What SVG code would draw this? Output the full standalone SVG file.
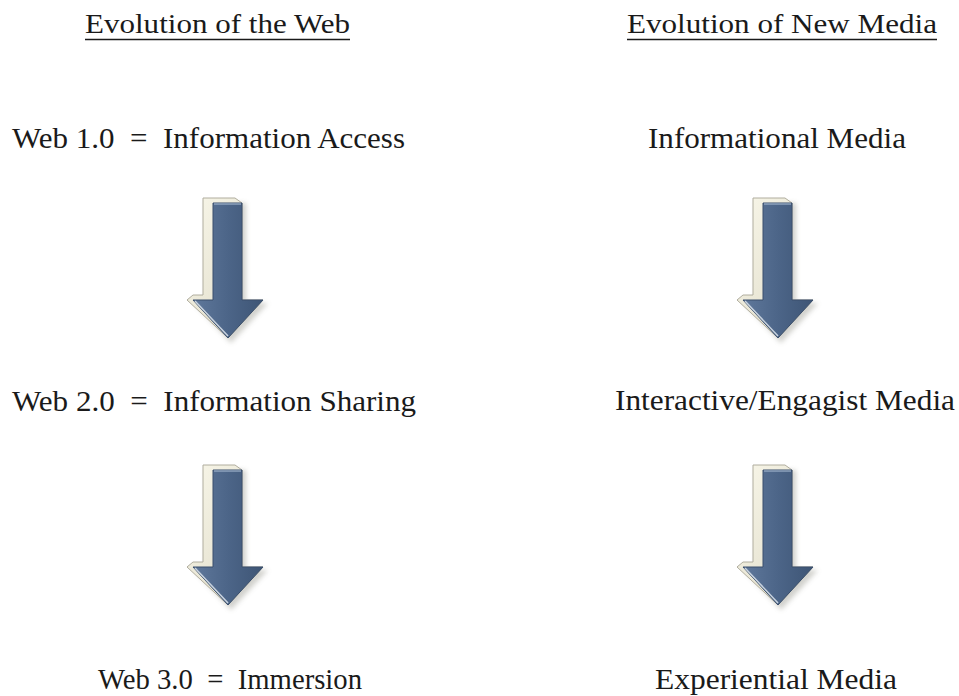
<svg xmlns="http://www.w3.org/2000/svg" width="959" height="696" viewBox="0 0 959 696">
<style>
  .t { font-family: "Liberation Serif", "Times New Roman", serif; fill: #1a1a1a; white-space: pre; }
  .h { font-size: 27px; }
  .b { font-size: 29px; }
  .ul { stroke: #1a1a1a; stroke-width: 1.6; }
</style>
<defs>
  <linearGradient id="face" x1="0" y1="0" x2="1" y2="0">
    <stop offset="0" stop-color="#5f789b"/>
    <stop offset="0.5" stop-color="#4c6588"/>
    <stop offset="1" stop-color="#3e5575"/>
  </linearGradient>
  <linearGradient id="bevel" x1="0" y1="0" x2="1" y2="1">
    <stop offset="0" stop-color="#f9f7ea"/>
    <stop offset="1" stop-color="#dcd8c4"/>
  </linearGradient>
  <filter id="sh" x="-30%" y="-20%" width="160%" height="140%">
    <feGaussianBlur stdDeviation="2.5"/>
  </filter>
  <g id="arrow">
    <path d="M206,203 L246,203 L246,303 L268,303 L231,343 L194,303 L206,303 Z" fill="#9a9a90" opacity="0.45" filter="url(#sh)"/>
    <path d="M203,198 L235,198 L242,203 L242,300 L263,300 L228,338 L187,300 L193,295 L203,295 Z" fill="url(#bevel)" stroke="#b0ad9e" stroke-width="1"/>
    <path d="M213,203 L242,203 L242,300 L263,300 L228,338 L193,300 L213,300 Z" fill="url(#face)" stroke="#3a4f6c" stroke-width="1"/>
    <path d="M214,204 L241,204" stroke="#9fb3cc" stroke-width="1.2"/>
    <path d="M195,301 L228,336" stroke="#c9d3df" stroke-width="1.5"/>
  </g>
</defs>

<g id="connectors">
  <use href="#arrow"/>
  <use href="#arrow" transform="translate(550,0)"/>
  <use href="#arrow" transform="translate(0,267)"/>
  <use href="#arrow" transform="translate(550,267)"/>
</g>

<g id="title-web">
  <text class="t h" x="85" y="33" textLength="265" lengthAdjust="spacingAndGlyphs">Evolution of the Web</text>
  <line class="ul" x1="85" y1="39.5" x2="350" y2="39.5"/>
</g>
<g id="title-media">
  <text class="t h" x="627" y="33" textLength="310" lengthAdjust="spacingAndGlyphs">Evolution of New Media</text>
  <line class="ul" x1="627" y1="39.5" x2="937" y2="39.5"/>
</g>

<g id="web1">
  <text class="t b" x="12" y="148" textLength="393" lengthAdjust="spacingAndGlyphs">Web 1.0  =  Information Access</text>
</g>
<g id="media1">
  <text class="t b" x="648" y="148" textLength="258" lengthAdjust="spacingAndGlyphs">Informational Media</text>
</g>

<g id="web2">
  <text class="t b" x="12" y="411" textLength="404" lengthAdjust="spacingAndGlyphs">Web 2.0  =  Information Sharing</text>
</g>
<g id="media2">
  <text class="t b" x="615" y="410" textLength="340" lengthAdjust="spacingAndGlyphs">Interactive/Engagist Media</text>
</g>

<g id="web3">
  <text class="t b" x="98" y="689" textLength="264" lengthAdjust="spacingAndGlyphs">Web 3.0  =  Immersion</text>
</g>
<g id="media3">
  <text class="t b" x="655" y="689" textLength="242" lengthAdjust="spacingAndGlyphs">Experiential Media</text>
</g>
</svg>
